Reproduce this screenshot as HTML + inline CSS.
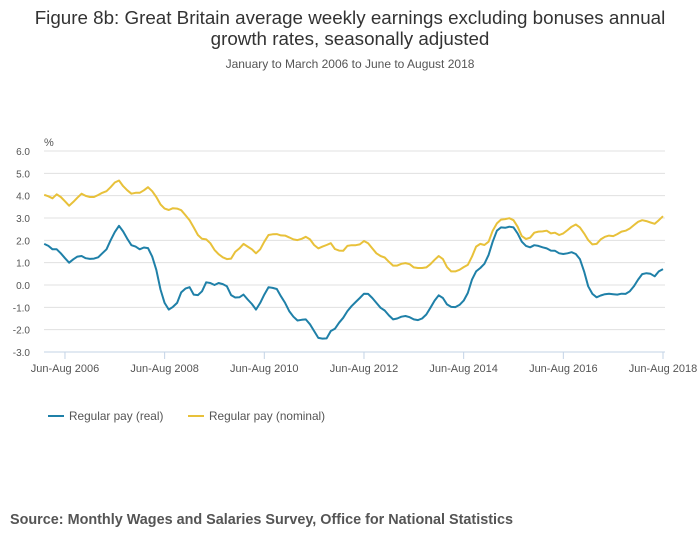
<!DOCTYPE html>
<html><head><meta charset="utf-8"><style>
body{margin:0;background:#fff;font-family:"Liberation Sans",sans-serif;}
#wrap{position:relative;width:700px;height:549px;overflow:hidden;}
.t{position:absolute;left:0;width:700px;text-align:center;color:#333;}
</style></head><body>
<div id="wrap">
<div class="t" style="top:7px;font-size:18.8px;line-height:21px;">Figure 8b: Great Britain average weekly earnings excluding bonuses annual<br>growth rates, seasonally adjusted</div>
<div class="t" style="top:57px;font-size:12px;color:#555;">January to March 2006 to June to August 2018</div>
<svg id="chart" width="700" height="549" style="position:absolute;left:0;top:0"></svg>
<div style="position:absolute;left:10px;top:512px;font-size:14.4px;font-weight:bold;color:#555;">Source: Monthly Wages and Salaries Survey, Office for National Statistics</div>
</div>
<script>
const yTicks=[6,5,4,3,2,1,0,-1,-2,-3];
const yTickLabels=["6.0","5.0","4.0","3.0","2.0","1.0","0.0","-1.0","-2.0","-3.0"];
const xTickIdx=[5,29,53,77,101,125,149];
const xTickLabels=["Jun-Aug 2006","Jun-Aug 2008","Jun-Aug 2010","Jun-Aug 2012","Jun-Aug 2014","Jun-Aug 2016","Jun-Aug 2018"];
const realPay=[1.84,1.75,1.6,1.6,1.42,1.2,1.0,1.15,1.27,1.3,1.2,1.17,1.18,1.24,1.42,1.6,2.0,2.37,2.65,2.4,2.07,1.78,1.72,1.6,1.68,1.65,1.27,0.68,-0.2,-0.8,-1.1,-0.98,-0.8,-0.33,-0.16,-0.1,-0.43,-0.45,-0.28,0.12,0.09,0.0,0.09,0.04,-0.06,-0.45,-0.56,-0.55,-0.43,-0.65,-0.85,-1.1,-0.8,-0.43,-0.1,-0.13,-0.18,-0.5,-0.8,-1.17,-1.42,-1.59,-1.56,-1.54,-1.76,-2.06,-2.37,-2.4,-2.39,-2.06,-1.96,-1.69,-1.47,-1.17,-0.95,-0.76,-0.58,-0.39,-0.4,-0.58,-0.8,-1.02,-1.14,-1.36,-1.54,-1.5,-1.42,-1.39,-1.44,-1.54,-1.57,-1.5,-1.32,-1.02,-0.7,-0.46,-0.58,-0.87,-0.98,-0.99,-0.89,-0.7,-0.36,0.24,0.61,0.76,0.95,1.35,1.94,2.43,2.58,2.56,2.61,2.58,2.31,1.94,1.75,1.69,1.78,1.75,1.69,1.64,1.54,1.53,1.42,1.39,1.42,1.47,1.39,1.16,0.61,-0.06,-0.4,-0.55,-0.47,-0.41,-0.39,-0.41,-0.43,-0.39,-0.4,-0.28,-0.06,0.24,0.49,0.53,0.5,0.39,0.61,0.71];
const nominalPay=[4.04,3.97,3.88,4.06,3.94,3.75,3.55,3.72,3.91,4.09,3.99,3.94,3.94,4.03,4.13,4.2,4.38,4.59,4.68,4.43,4.24,4.09,4.13,4.13,4.24,4.38,4.2,3.94,3.61,3.42,3.36,3.44,3.42,3.35,3.13,2.9,2.58,2.24,2.07,2.04,1.87,1.57,1.38,1.24,1.16,1.18,1.48,1.64,1.84,1.72,1.6,1.42,1.6,1.94,2.24,2.27,2.28,2.22,2.21,2.13,2.04,2.01,2.07,2.16,2.04,1.79,1.64,1.72,1.79,1.87,1.61,1.54,1.53,1.75,1.78,1.78,1.82,1.97,1.87,1.64,1.42,1.3,1.23,1.04,0.87,0.87,0.95,0.98,0.93,0.79,0.76,0.76,0.79,0.93,1.13,1.3,1.16,0.8,0.61,0.61,0.68,0.8,0.9,1.27,1.72,1.84,1.79,1.94,2.43,2.76,2.93,2.95,2.99,2.9,2.61,2.19,2.06,2.12,2.34,2.39,2.4,2.43,2.31,2.34,2.24,2.31,2.46,2.61,2.71,2.58,2.31,2.01,1.82,1.84,2.04,2.16,2.21,2.19,2.28,2.39,2.43,2.53,2.68,2.83,2.9,2.86,2.8,2.74,2.9,3.08];

const NS="http://www.w3.org/2000/svg";
const svg=document.getElementById('chart');
const X0=44.2,X1=663,Y0=151,Y1=352,VMAX=6,VMIN=-3,N=realPay.length;
function xs(i){return X0+(X1-X0)*i/(N-1);}
function ys(v){return Y0+(VMAX-v)/(VMAX-VMIN)*(Y1-Y0);}
function mk(tag,attrs){const e=document.createElementNS(NS,tag);for(const k in attrs)e.setAttribute(k,attrs[k]);svg.appendChild(e);return e;}
yTicks.forEach((v,k)=>{
  const y=ys(v);
  if(k<yTicks.length-1){const g=mk('line',{x1:44,x2:665,y1:y,y2:y,stroke:'#e0e0e0','stroke-width':1});
  
  }
  const t=mk('text',{x:30,y:y+4,'text-anchor':'end','font-size':10,fill:'#555','font-family':'Liberation Sans, sans-serif'});
  t.textContent=yTickLabels[k];
  
  
});
const ax=mk('line',{x1:44,x2:665,y1:Y1,y2:Y1,stroke:'#c3d3e6','stroke-width':1});


xTickIdx.forEach((idx,k)=>{
  const x=xs(idx);
  const tk=mk('line',{x1:x,x2:x,y1:Y1,y2:Y1+7,stroke:'#c3d3e6','stroke-width':1});
  
  
  const t=mk('text',{x:x,y:372,'text-anchor':'middle','font-size':11,fill:'#555','font-family':'Liberation Sans, sans-serif'});
  t.textContent=xTickLabels[k];
  
  
});
const pct=mk('text',{x:44,y:146,'font-size':11,fill:'#555','font-family':'Liberation Sans, sans-serif'});
pct.textContent='%';


function line(data,color,name){
  const d=data.map((v,i)=>(i?'L':'M')+xs(i).toFixed(1)+' '+ys(v).toFixed(1)).join(' ');
  const p=mk('path',{d:d,fill:'none',stroke:color,'stroke-width':2,'stroke-linejoin':'round'});
  
  
}
line(nominalPay,'#e8c13a','series-nominal-pay');
line(realPay,'#1f80a8','series-real-pay');
function legend(x,color,label,name){
  const l=mk('line',{x1:x,x2:x+16,y1:416,y2:416,stroke:color,'stroke-width':2});
  
  
  const t=mk('text',{x:x+21,y:420,'font-size':11.8,fill:'#555','font-family':'Liberation Sans, sans-serif'});
  t.textContent=label;
  
  
}
legend(48,'#1f80a8','Regular pay (real)','legend-entry-real');
legend(188,'#e8c13a','Regular pay (nominal)','legend-entry-nominal');
</script>
</body></html>
